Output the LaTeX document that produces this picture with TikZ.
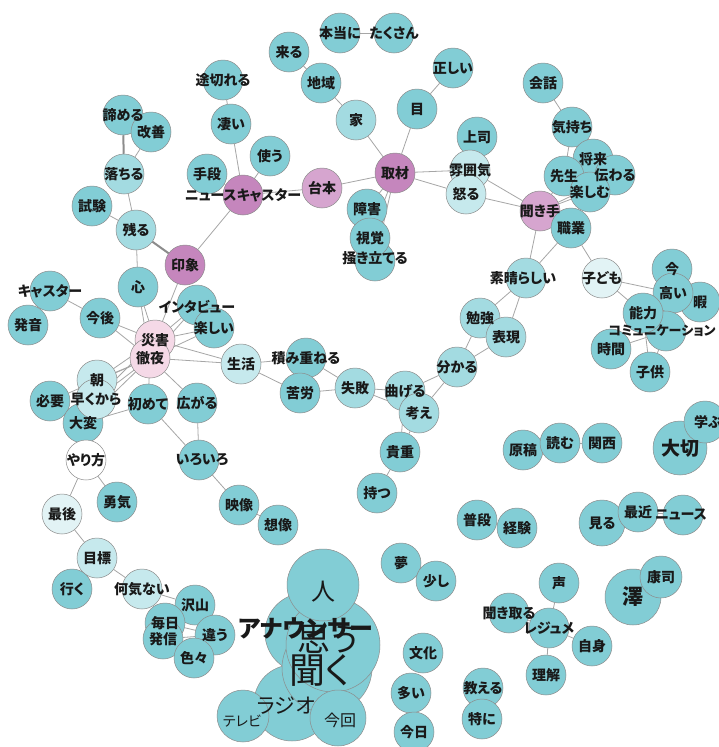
\documentclass[tikz,border=0pt]{standalone}
\usepackage{fontspec}
\setmainfont{Noto Sans CJK JP}[RawFeature=+palt]
\definecolor{tA}{HTML}{82CDD5}
\definecolor{tB}{HTML}{A3DBE1}
\definecolor{tC}{HTML}{C6E9ED}
\definecolor{tD}{HTML}{E2F3F5}
\definecolor{pA}{HTML}{C586BD}
\definecolor{pB}{HTML}{D6A5CF}
\definecolor{pC}{HTML}{F5D9E7}
\pgfdeclarelayer{edges}
\pgfsetlayers{edges,main}
\tikzset{
  bub/.style={circle, draw=black!45, line width=0.5pt, inner sep=0pt},
  lab/.style={inner sep=0pt, font=\fontsize{14}{14}\selectfont\bfseries, text=black!90},
  ed/.style={draw=black!35, line width=0.8pt},
  edt/.style={draw=black!45, line width=2pt},
}
\newcommand\nd[5][40]{\node[bub,fill=#5,minimum size=#1pt] (#2) at (#3,#4) {};}
\newcommand\tx[3][]{\node[lab,#1] (#2-t) at (#2.center) {#3};}
\begin{document}
\begin{tikzpicture}[x=1pt,y=-1pt]
\useasboundingbox (0,0) rectangle (719,747);
% ---------- circles ----------
% top
\nd{hontou}{340}{33}{tA}
\nd{takusan}{394}{33}{tA}
\nd{kuru}{289}{52}{tA}
\nd{chiiki}{321}{83}{tA}
\nd{ie}{356}{120}{tB}
\nd{tadashii}{453}{68}{tA}
\nd{me}{417}{109}{tA}
\nd{shuzai}{395}{173}{pA}
\nd{joushi}{477}{137}{tA}
\nd{funiki}{470}{170}{tC}
\nd{okoru}{466}{194}{tC}
\nd{kaiwa}{543}{83}{tA}
\nd{kimochi}{572}{127}{tA}
\nd{shourai}{593}{159}{tA}
\nd{sensei}{564}{176}{tA}
\nd{tsutawaru}{615}{175}{tA}
\nd{tanoshimu}{590}{192}{tA}
\nd{kikite}{540}{211}{pB}
\nd{shokugyou}{571}{228}{tA}
\nd{shougai}{367}{209}{tA}
\nd{kakitateru}{375}{261}{tA}
\nd{shikaku}{370}{238}{tA}
\nd{togireru}{223}{80}{tA}
\nd{sugoi}{231}{124}{tA}
\nd{tsukau}{270}{156}{tA}
\nd{shudan}{207}{174}{tA}
\nd{caster}{243}{195}{pA}
\nd{daihon}{322}{188}{pB}
\nd{akirameru}{123}{115}{tA}
\nd{kaizen}{151}{132}{tA}
\nd{ochiru}{124}{174}{tB}
\nd{shiken}{92}{206}{tA}
\nd{nokoru}{136}{230}{tB}
\nd{inshou}{185}{265}{pA}
% middle left
\nd{kokoro}{138}{287}{tA}
\nd{casterb}{50}{291}{tA}
\nd{hatsuon}{28}{325}{tA}
\nd{kongo}{100}{318}{tA}
\nd{interview}{197}{305}{tA}
\nd{tanoshii}{214}{328}{tA}
\nd{saigai}{155}{340}{pC}
\nd{tetsuya}{150}{358}{pC}
\nd{seikatsu}{241}{364}{tC}
\nd{tsumikasaneru}{306}{358}{tA}
\nd{kurou}{300}{393}{tA}
\nd{shippai}{355}{388}{tB}
\nd{hitsuyou}{50}{401}{tA}
\nd{taihen}{83}{423}{tA}
\nd{asa}{97}{380}{tC}
\nd{hayaku}{96}{399}{tC}
\nd{hajimete}{148}{404}{tA}
\nd{hirogaru}{197}{403}{tA}
\nd{iroiro}{199}{460}{tA}
\nd{yarikata}{86}{460}{white}
\nd{yuuki}{117}{502}{tA}
\nd{saigo}{62}{514}{tD}
\nd{eizou}{239}{505}{tA}
\nd{souzou}{278}{525}{tA}
\nd{mokuhyou}{97}{558}{tC}
\nd{iku}{72}{589}{tA}
\nd{nanigenai}{142}{589}{tC}
\nd{takusanb}{195}{605}{tA}
\nd{mainichi}{165}{623}{tA}
\nd{hasshin}{163}{639}{tA}
\nd{chigau}{215}{635}{tA}
\nd{iroirob}{194}{658}{tA}
% bottom cluster
\nd[80]{announcer}{305}{633}{tA}
\nd[76]{radio}{292}{703}{tA}
\nd[90]{kiku}{327}{668}{tA}
\nd[94]{omou}{333}{645}{tA}
\nd[72]{hito}{323}{585}{tA}
\nd[52]{terebi}{243}{716}{tA}
\nd[56]{konkai}{338}{718}{tA}
% right side
\nd{subarashii}{526}{278}{tB}
\nd{kodomo}{602}{278}{tD}
\nd{ima}{672}{269}{tA}
\nd{hima}{700}{302}{tA}
\nd{takai}{673}{293}{tA}
\nd{comm}{666}{331}{tA}
\nd{nouryoku}{643}{313}{tA}
\nd{jikan}{611}{349}{tA}
\nd{kodomob}{650}{372}{tA}
\nd{benkyou}{480}{318}{tB}
\nd{hyougen}{506}{337}{tB}
\nd{wakaru}{457}{367}{tB}
\nd{mageru}{405}{391}{tB}
\nd{kangae}{419}{413}{tB}
\nd{kichou}{400}{452}{tA}
\nd{motsu}{377}{493}{tA}
\nd{genkou}{523}{450}{tA}
\nd{yomu}{560}{443}{tA}
\nd{kansai}{602}{443}{tA}
\nd[54]{taisetsu}{680}{448}{tA}
\nd[42]{manabu}{705}{422}{tA}
\nd{fudan}{477}{520}{tA}
\nd{keiken}{517}{528}{tA}
\nd[46]{miru}{602}{523}{tA}
\nd{saikin}{638}{512}{tA}
\nd{news}{683}{515}{tA}
\nd{yume}{401}{563}{tA}
\nd{sukoshi}{436}{581}{tA}
\nd{koe}{559}{583}{tA}
\nd[56]{sawa}{633}{597}{tA}
\nd[42]{kouji}{661}{577}{tA}
\nd{kikitoru}{509}{613}{tA}
\nd{rejume}{549}{628}{tA}
\nd{jishin}{592}{646}{tA}
\nd{rikai}{546}{675}{tA}
\nd{bunka}{423}{653}{tA}
\nd{ooi}{411}{693}{tA}
\nd{kyou}{414}{732}{tA}
\nd{oshieru}{483}{688}{tA}
\nd{tokuni}{482}{719}{tA}
% ---------- edges ----------
\begin{pgfonlayer}{edges}
\fill[white] (0,0) rectangle (719,747);
\draw[ed] (hontou) -- (takusan);
\draw[ed] (kuru) -- (chiiki);
\draw[ed] (chiiki) -- (ie);
\draw[ed] (ie) -- (shuzai);
\draw[ed] (me) -- (shuzai);
\draw[ed] (me) -- (tadashii);
\draw[ed] (shuzai) -- (daihon);
\draw[ed] (shuzai) -- (funiki);
\draw[ed] (shuzai) -- (okoru);
\draw[ed] (shuzai) -- (shougai);
\draw[ed] (shuzai) -- (shikaku);
\draw[ed] (shuzai) -- (kakitateru);
\draw[ed] (funiki) -- (kikite);
\draw[ed] (okoru) -- (kikite);
\draw[ed] (joushi) -- (funiki);
\draw[ed] (kaiwa) -- (kimochi);
\draw[ed] (kimochi) -- (sensei);
\draw[ed] (kikite) -- (sensei);
\draw[ed] (kikite) -- (tanoshimu);
\draw[ed] (kikite) -- (tsutawaru);
\draw[ed] (kikite) -- (shokugyou);
\draw[ed] (sensei) -- (tsutawaru);
\draw[ed] (kikite) -- (subarashii);
\draw[ed] (shokugyou) -- (subarashii);
\draw[ed] (shokugyou) -- (kodomo);
\draw[ed] (kodomo) -- (takai);
\draw[ed] (kodomo) -- (nouryoku);
\draw[ed] (takai) -- (ima);
\draw[ed] (takai) -- (hima);
\draw[ed] (nouryoku) -- (takai);
\draw[ed] (nouryoku) -- (comm);
\draw[ed] (comm) -- (jikan);
\draw[ed] (comm) -- (kodomob);
\draw[ed] (nouryoku) -- (kodomob);
\draw[ed] (subarashii) -- (benkyou);
\draw[ed] (subarashii) -- (hyougen);
\draw[ed] (benkyou) -- (wakaru);
\draw[ed] (hyougen) -- (wakaru);
\draw[ed] (wakaru) -- (mageru);
\draw[ed] (wakaru) -- (kangae);
\draw[ed] (mageru) -- (shippai);
\draw[ed] (kangae) -- (shippai);
\draw[ed] (mageru) -- (kichou);
\draw[ed] (kangae) -- (kichou);
\draw[ed] (kichou) -- (motsu);
\draw[ed] (shippai) -- (kurou);
\draw[ed] (shippai) -- (tsumikasaneru);
\draw[ed] (kurou) -- (seikatsu);
\draw[ed] (tsumikasaneru) -- (seikatsu);
\draw[ed] (seikatsu) -- (saigai);
\draw[ed] (seikatsu) -- (tetsuya);
\draw[ed] (caster) -- (daihon);
\draw[ed] (caster) -- (shudan);
\draw[ed] (caster) -- (tsukau);
\draw[ed] (caster) -- (sugoi);
\draw[ed] (caster) -- (inshou);
\draw[ed] (sugoi) -- (togireru);
\draw[edt] (inshou) -- (nokoru);
\draw[ed] (nokoru) -- (ochiru);
\draw[ed] (nokoru) -- (shiken);
\draw[edt] (ochiru) -- (akirameru);
\draw[ed] (ochiru) -- (kaizen);
\draw[ed] (nokoru) -- (kokoro);
\draw[ed] (inshou) -- (saigai);
\draw[ed] (kokoro) -- (saigai);
\draw[ed] (kokoro) -- (tetsuya);
\draw[ed] (kongo) -- (saigai);
\draw[ed] (kongo) -- (tetsuya);
\draw[ed] (casterb) -- (kongo);
\draw[ed] (saigai) -- (interview);
\draw[ed] (tetsuya) -- (interview);
\draw[ed] (saigai) -- (tanoshii);
\draw[ed] (tetsuya) -- (tanoshii);
\draw[ed] (saigai) -- (asa);
\draw[ed] (tetsuya) -- (asa);
\draw[ed] (saigai) -- (hayaku);
\draw[ed] (tetsuya) -- (hayaku);
\draw[ed] (tetsuya) -- (hitsuyou);
\draw[ed] (tetsuya) -- (taihen);
\draw[ed] (tetsuya) -- (hajimete);
\draw[ed] (tetsuya) -- (hirogaru);
\draw[ed] (hajimete) -- (taihen);
\draw[ed] (hajimete) -- (iroiro);
\draw[ed] (hirogaru) -- (iroiro);
\draw[ed] (iroiro) -- (eizou);
\draw[ed] (eizou) -- (souzou);
\draw[ed] (yarikata) -- (taihen);
\draw[ed] (yarikata) -- (yuuki);
\draw[ed] (yarikata) -- (saigo);
\draw[ed] (saigo) -- (mokuhyou);
\draw[ed] (mokuhyou) -- (nanigenai);
\draw[ed] (mokuhyou) -- (iku);
\draw[ed] (nanigenai) -- (takusanb);
\draw[ed] (nanigenai) -- (mainichi);
\draw[ed] (takusanb) -- (chigau);
\draw[ed] (mainichi) -- (chigau);
\draw[ed] (hasshin) -- (chigau);
\draw[ed] (mainichi) -- (iroirob);
\draw[ed] (hasshin) -- (iroirob);
\draw[ed] (takusanb) -- (hasshin);
\draw[ed] (chigau) -- (iroirob);
\draw[ed] (kikitoru) -- (rejume);
\draw[ed] (rejume) -- (koe);
\draw[ed] (rejume) -- (jishin);
\draw[ed] (rejume) -- (rikai);
\draw[ed] (miru) -- (saikin);
\draw[ed] (saikin) -- (news);
\draw[ed] (sawa) -- (kouji);
\draw[ed] (genkou) -- (yomu);
\draw[ed] (yomu) -- (kansai);
\draw[ed] (fudan) -- (keiken);
\draw[ed] (yume) -- (sukoshi);
\draw[ed] (oshieru) -- (tokuni);
\draw[ed] (taisetsu) -- (manabu);
\end{pgfonlayer}
% ---------- labels ----------
\tx{hontou}{本当に}
\tx{takusan}{たくさん}
\tx{kuru}{来る}
\tx{chiiki}{地域}
\tx{ie}{家}
\tx{tadashii}{正しい}
\tx{me}{目}
\tx{shuzai}{取材}
\tx{joushi}{上司}
\tx{funiki}{雰囲気}
\tx{okoru}{怒る}
\tx{kaiwa}{会話}
\tx{kimochi}{気持ち}
\tx{shourai}{将来}
\tx{sensei}{先生}
\tx{tsutawaru}{伝わる}
\tx{tanoshimu}{楽しむ}
\tx{kikite}{聞き手}
\tx{shokugyou}{職業}
\tx{shougai}{障害}
\tx{shikaku}{視覚}
\tx[yshift=3pt]{kakitateru}{掻き立てる}
\tx{togireru}{途切れる}
\tx{sugoi}{凄い}
\tx{tsukau}{使う}
\tx{shudan}{手段}
\tx{caster}{ニュースキャスター}
\tx{daihon}{台本}
\tx{akirameru}{諦める}
\tx{kaizen}{改善}
\tx{ochiru}{落ちる}
\tx{shiken}{試験}
\tx{nokoru}{残る}
\tx{inshou}{印象}
\tx{kokoro}{心}
\tx{casterb}{キャスター}
\tx{hatsuon}{発音}
\tx{kongo}{今後}
\tx[yshift=-2pt]{interview}{インタビュー}
\tx{tanoshii}{楽しい}
\tx{saigai}{災害}
\tx{tetsuya}{徹夜}
\tx{seikatsu}{生活}
\tx{tsumikasaneru}{積み重ねる}
\tx{kurou}{苦労}
\tx{shippai}{失敗}
\tx{hitsuyou}{必要}
\tx{taihen}{大変}
\tx{asa}{朝}
\tx{hayaku}{早くから}
\tx{hajimete}{初めて}
\tx{hirogaru}{広がる}
\tx[xshift=3pt]{iroiro}{いろいろ}
\tx{yarikata}{やり方}
\tx{yuuki}{勇気}
\tx{saigo}{最後}
\tx{eizou}{映像}
\tx{souzou}{想像}
\tx{mokuhyou}{目標}
\tx{iku}{行く}
\tx{nanigenai}{何気ない}
\tx{takusanb}{沢山}
\tx{mainichi}{毎日}
\tx{hasshin}{発信}
\tx{chigau}{違う}
\tx{iroirob}{色々}
\node[lab,font=\fontsize{33}{33}\selectfont] (omou-t) at (328,639) {思う};
\node[lab,font=\fontsize{36}{36}\selectfont] (kiku-t) at (320,670) {聞く};
\node[lab,font=\fontsize{24}{24}\selectfont\bfseries] (announcer-t) at (306,628) {アナウンサー};
\node[lab,font=\fontsize{24}{24}\selectfont] (hito-t) at (323,592) {人};
\node[lab,font=\fontsize{21}{21}\selectfont] (radio-t) at (286,706) {ラジオ};
\node[lab,font=\fontsize{14}{14}\selectfont] (terebi-t) at (242,721) {テレビ};
\node[lab,font=\fontsize{16}{16}\selectfont] (konkai-t) at (340,720) {今回};
\tx[xshift=-3pt]{subarashii}{素晴らしい}
\tx{kodomo}{子ども}
\tx{ima}{今}
\tx{takai}{高い}
\tx{hima}{暇}
\tx{nouryoku}{能力}
\tx[xshift=-4pt,font=\fontsize{13}{13}\selectfont\bfseries]{comm}{コミュニケーション}
\tx{jikan}{時間}
\tx{kodomob}{子供}
\tx{benkyou}{勉強}
\tx{hyougen}{表現}
\tx{wakaru}{分かる}
\tx{mageru}{曲げる}
\tx{kangae}{考え}
\tx{kichou}{貴重}
\tx{motsu}{持つ}
\tx{genkou}{原稿}
\tx{yomu}{読む}
\tx{kansai}{関西}
\tx[font=\fontsize{19}{19}\selectfont\bfseries]{taisetsu}{大切}
\tx[xshift=3pt]{manabu}{学ぶ}
\tx{fudan}{普段}
\tx{keiken}{経験}
\tx{miru}{見る}
\tx{saikin}{最近}
\tx[xshift=-2pt]{news}{ニュース}
\tx{yume}{夢}
\tx{sukoshi}{少し}
\tx{koe}{声}
\tx[font=\fontsize{21}{21}\selectfont\bfseries]{sawa}{澤}
\tx{kouji}{康司}
\tx{kikitoru}{聞き取る}
\tx{rejume}{レジュメ}
\tx{jishin}{自身}
\tx{rikai}{理解}
\tx{bunka}{文化}
\tx{ooi}{多い}
\tx{kyou}{今日}
\tx{oshieru}{教える}
\tx{tokuni}{特に}
\end{tikzpicture}
\end{document}
